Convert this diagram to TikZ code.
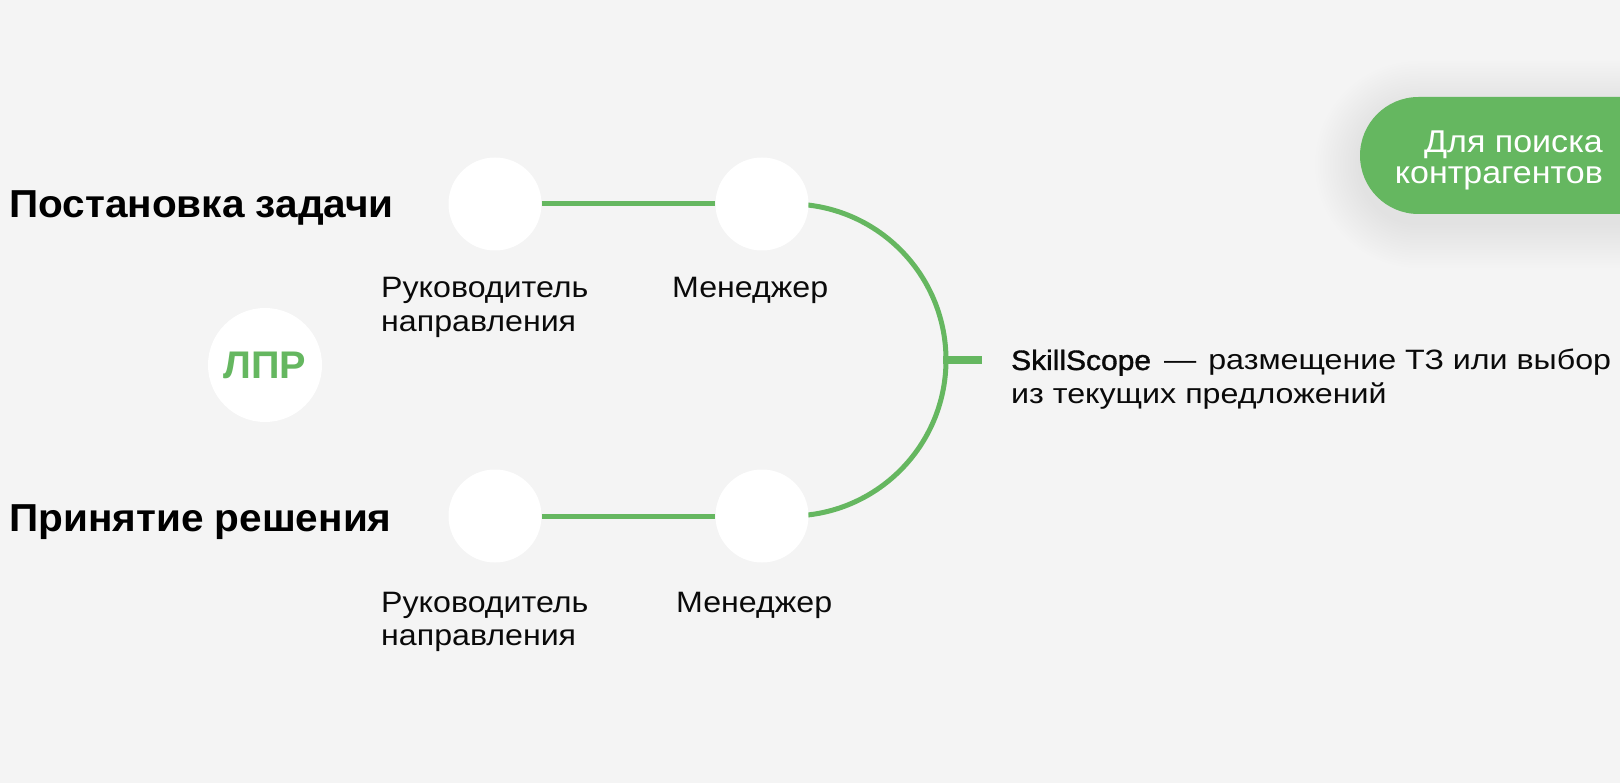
\documentclass[tikz,border=0pt]{standalone}
\usepackage{fontspec}
\setmainfont{Liberation Sans}
\newfontfamily\ttlfont[FakeStretch=1.04]{Liberation Sans}
\newfontfamily\lblfont[FakeStretch=1.09]{Liberation Sans}
\newfontfamily\sstfont[FakeStretch=1.15]{Liberation Sans}
\newfontfamily\sstmed[FakeStretch=1.07,FakeBold=1.3]{Liberation Sans}
\newfontfamily\pillfont[FakeStretch=1.08]{Liberation Sans}
\newfontfamily\lprfont[FakeStretch=1.03]{Liberation Sans}
\definecolor{bgc}{HTML}{F4F4F4}
\definecolor{grn}{HTML}{65B760}
\definecolor{ink}{HTML}{0A0A0A}
\pgfdeclarelayer{bgl}
\pgfdeclarelayer{lines}
\pgfsetlayers{bgl,lines,main}
\begin{document}
\begin{tikzpicture}[x=1pt,y=-1pt,
  dot/.style={circle, fill=white, minimum size=93pt, inner sep=0pt},
  lbl/.style={anchor=base west, inner sep=0pt, text=ink, font=\lblfont\fontsize{29.5}{34}\selectfont},
  ttl/.style={anchor=base west, inner sep=0pt, text=black, font=\ttlfont\bfseries\fontsize{39}{44}\selectfont},
  sst/.style={anchor=base west, inner sep=0pt, text=ink, font=\sstfont\fontsize{28}{32}\selectfont},
  pill/.style={anchor=base east, inner sep=0pt, text=white, font=\pillfont\fontsize{31.5}{36}\selectfont},
  link/.style={draw=grn, line width=5pt}]
\useasboundingbox (0,0) rectangle (1620,783);
\begin{pgfonlayer}{bgl}
\fill[bgc] (0,0) rectangle (1620,783);
% soft shadow of the pill
\foreach \i in {1,...,18}{
  \fill[black, opacity=0.0055, rounded corners={58.5pt+\i*2.5pt}]
    (1360-\i*2.5, 106-\i*2.5) rectangle (1720+\i*2.5, 223+\i*2.5);
}
\end{pgfonlayer}
% pill
\fill[grn, rounded corners=58.5pt] (1360,97) rectangle (1740,214);
\node[pill] (p1) at (1603,152.5) {Для поиска};
\node[pill] (p2) at (1603,183.5) {контрагентов};

% circles
\node[dot] (c1) at (495,204) {};
\node[dot] (c2) at (762,204) {};
\node[dot] (c3) at (495,516) {};
\node[dot] (c4) at (762,516) {};
\node[dot, minimum size=114pt] (lpr) at (265,365)
  {\lprfont\bfseries\fontsize{38.5}{44}\selectfont\textcolor{grn}{ЛПР}};

% connectors
\coordinate (hub) at (946,360);
\coordinate (stubend) at (982,360);
\begin{pgfonlayer}{lines}
\draw[link] (c1.east) -- (c2.west);
\draw[link] (c3.east) -- (c4.west);
\draw[link] ([xshift=28pt]c2.center) arc[start angle=-90, end angle=90, radius=156];
\draw[draw=grn, line width=8pt] ([xshift=-3pt]hub) -- (stubend);
\end{pgfonlayer}

% titles
\node[ttl] (t1) at (9,218) {Постановка задачи};
\node[ttl] (t2) at (9,531.5) {Принятие решения};

% labels
\node[lbl] (r1a) at (381,298) {Руководитель};
\node[lbl] (r1b) at (381,332) {направления};
\node[lbl] (m1) at (672,298) {Менеджер};
\node[lbl] (r2a) at (381,612) {Руководитель};
\node[lbl] (r2b) at (381,645) {направления};
\node[lbl] (m2) at (676,612) {Менеджер};

% SkillScope text
\node[sst] (s1) at (1011,370) {{\sstmed SkillScope}\hspace{13pt}—\hspace{12pt}размещение ТЗ или выбор};
\node[sst] (s2) at (1011,403) {из текущих предложений};
\end{tikzpicture}
\end{document}
